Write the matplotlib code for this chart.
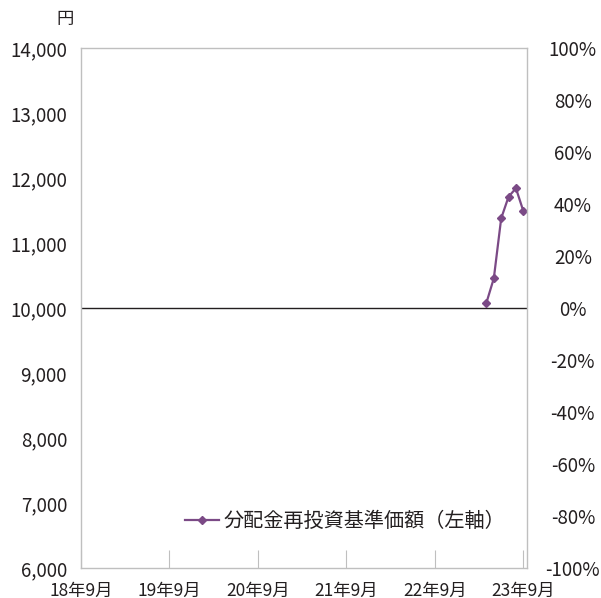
import matplotlib
matplotlib.use("Agg")
import matplotlib.pyplot as plt

plt.rcParams['font.family'] = ['Noto Sans CJK JP', 'DejaVu Sans']

tick_labels = ["18年9月", "19年9月", "20年9月", "21年9月", "22年9月", "23年9月"]
tick_months = [0, 12, 24, 36, 48, 60]
month_index = [55, 56, 57, 58, 59, 60]
nav = [10082, 10457, 11380, 11712, 11842, 11492]
left_ticks = [6000, 7000, 8000, 9000, 10000, 11000, 12000, 13000, 14000]
right_ticks = [-100, -80, -60, -40, -20, 0, 20, 40, 60, 80, 100]

color = "#7B4A86"
spine_c = "#BFBFBF"
text_c = "#231F20"

fig = plt.figure(figsize=(6.01, 5.98), dpi=100)
ax = fig.add_axes([81/601, 1-568/598, (527-81)/601, (568-48)/598])

ax.plot(month_index, nav, color=color, lw=1.6, marker='D', ms=4.5,
        label="分配金再投資基準価額（左軸）")
ax.axhline(10000, color="#231F20", lw=1.0, zorder=1)

ax.set_xlim(0, 60.5)
ax.set_ylim(6000, 14000)
ax.set_yticks(left_ticks)
ax.set_yticklabels([f"{v:,}" for v in left_ticks])
ax.set_xticks(tick_months)
ax.set_xticklabels(tick_labels)
for s in ax.spines.values():
    s.set_color(spine_c)
    s.set_linewidth(1.0)
ax.tick_params(axis='x', direction='in', length=13, color=spine_c, labelsize=12.5,
               labelcolor=text_c, pad=10)
ax.tick_params(axis='y', length=0, labelsize=13.5, labelcolor=text_c, pad=10)

ax2 = ax.twinx()
ax2.set_ylim(-100, 100)
ax2.set_yticks(right_ticks)
ax2.set_yticklabels([f"{v}%" for v in right_ticks])
ax2.tick_params(axis='y', length=0, labelsize=13.5, labelcolor=text_c, pad=33)
for lbl in ax2.get_yticklabels():
    lbl.set_horizontalalignment('center')
for s in ax2.spines.values():
    s.set_visible(False)

fig.text(65/601, 1-19/598, "円", ha='center', va='center', fontsize=12.5, color=text_c)

leg = ax.legend(loc='lower center', bbox_to_anchor=(0.592, 0.035), frameon=False,
                fontsize=14.5, handlelength=1.7, handletextpad=0.25)
for t in leg.get_texts():
    t.set_color(text_c)

fig.savefig("out.png", dpi=100)
